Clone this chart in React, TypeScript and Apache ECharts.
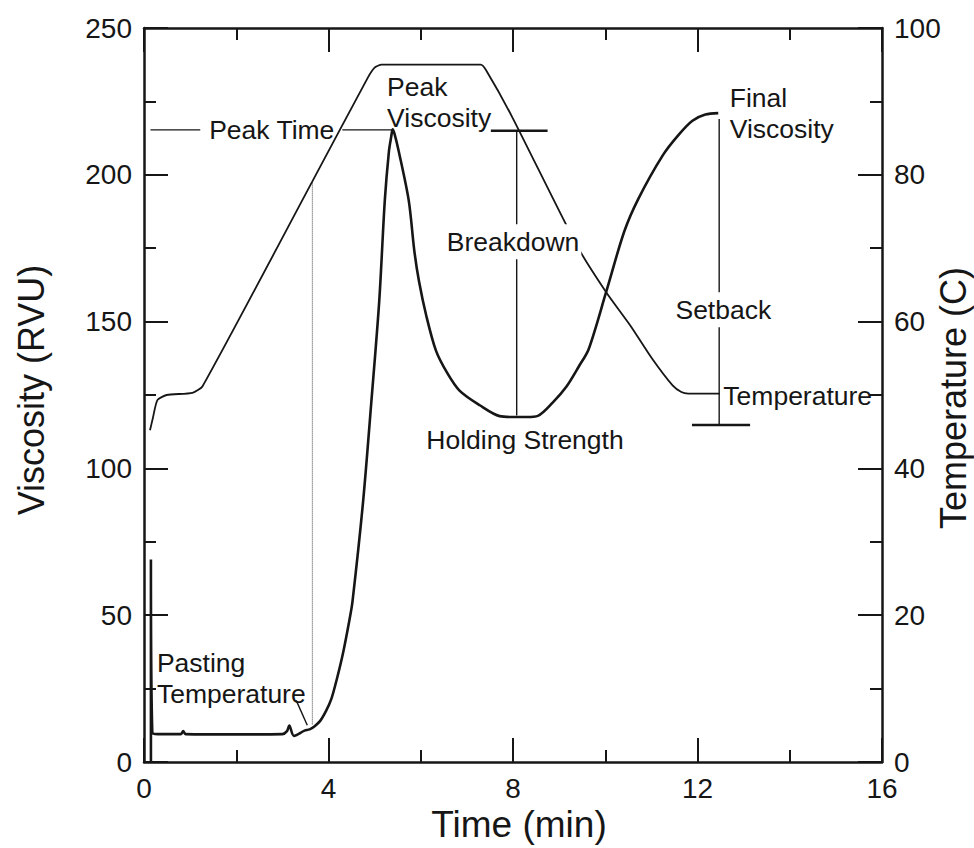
import React, { useEffect, useRef } from "react";
import * as echarts from "echarts";

// ---- Data ----
const viscTime = [0.15, 0.15, 0.18, 0.3, 0.8, 0.85, 0.9, 2.0, 3.0, 3.1, 3.15, 3.25, 3.48, 3.59, 3.7, 3.82, 3.95, 4.06, 4.18, 4.32, 4.46, 4.52, 4.75, 4.93, 5.1, 5.22, 5.31, 5.36, 5.39, 5.43, 5.52, 5.74, 5.86, 5.96, 6.12, 6.33, 6.57, 6.84, 7.28, 7.71, 8.0, 8.3, 8.54, 8.86, 9.16, 9.43, 9.64, 10.02, 10.41, 10.72, 11.25, 11.59, 11.89, 12.17, 12.45];
const viscValue = [0, 69, 10, 9.5, 9.5, 10.5, 9.5, 9.4, 9.5, 10.5, 12.4, 8.9, 10.7, 11.1, 12.2, 14.0, 17.5, 21.4, 28.2, 37.5, 48.9, 54.6, 88.7, 122.9, 157, 191.1, 208, 213, 215.5, 214, 208.2, 191.2, 174.2, 163.9, 152, 140.1, 132.6, 126.5, 121.5, 117.8, 117.5, 117.5, 117.9, 122.4, 127.9, 134.8, 140.6, 160.1, 180.6, 191.9, 206.7, 213.6, 218.4, 220.5, 221];

const tempTime = [0.13, 0.19, 0.29, 0.49, 1.05, 1.27, 3.65, 4.85, 5.0, 5.15, 7.3, 7.42, 7.98, 9.39, 10.02, 10.55, 11.01, 11.46, 11.65, 11.8, 12.48];
const tempValue = [45.2, 46.8, 49.3, 50, 50.3, 51.2, 79.1, 93.2, 94.6, 95, 95, 94.2, 87.9, 70.3, 64, 59.4, 55, 51.3, 50.4, 50.2, 50.2];

const xTicks = { min: 0, max: 16, interval: 4 };
const yViscTicks = { min: 0, max: 250, interval: 50 };
const yTempTicks = { min: 0, max: 100, interval: 20 };

// annotation segments [time, viscosity]
const peakTimeLeft = [[0.14, 215.3], [1.22, 215.3]];
const peakTimeRight = [[4.3, 215.3], [5.39, 215.3]];
const breakdownBar = [[7.52, 215], [8.75, 215]];
const breakdownLine = [[8.08, 215], [8.08, 118]];
const setbackLine = [[12.47, 219], [12.47, 114.8]];
const setbackBar = [[11.88, 114.8], [13.14, 114.8]];
const pastingDotted = [[3.65, 12.8], [3.65, 197.7]];
const pastingLeader = [[3.3, 21], [3.54, 12.5]];

// annotation labels
const labelTexts = ["Peak Time", "Peak\nViscosity", "Breakdown", "Holding Strength", "Final\nViscosity", "Setback", "Temperature", "Pasting\nTemperature"];
const labelPos = [[2.77, 215.3], [5.27, 224.5], [8.0, 177.2], [8.26, 109.7], [12.7, 220.9], [12.56, 154], [12.56, 124.7], [0.28, 28.3]];
const labelLeftAligned = [false, true, false, false, true, false, true, true];
const labelWhiteBg = [false, false, true, false, false, true, false, false];

const FONT = "'Liberation Sans', Arial, sans-serif";
const INK = "#161616";

export default function App() {
  const ref = useRef<HTMLDivElement>(null);
  useEffect(() => {
    if (!ref.current) return;
    const chart = echarts.init(ref.current, undefined, { renderer: "svg" });

    const axisCommon = (showLabel: boolean) => ({
      type: "value",
      axisLine: { show: true, onZero: false, lineStyle: { color: INK, width: 2.5 } },
      axisTick: { show: true, inside: true, length: 24, lineStyle: { color: INK, width: 2 } },
      minorTick: { show: true, splitNumber: 2, length: 12, lineStyle: { color: INK, width: 2 } },
      splitLine: { show: false },
      minorSplitLine: { show: false },
      axisLabel: { show: showLabel, fontSize: 28, color: INK, fontFamily: FONT, margin: 12 },
    });

    const seg = (d: number[][], width: number, type: string = "solid", color: string = INK) => ({
      type: "line",
      xAxisIndex: 0,
      yAxisIndex: 0,
      data: d,
      symbol: "none",
      silent: true,
      lineStyle: { color, width, type },
      z: 3,
    });

    const option: any = {
      animation: false,
      backgroundColor: "#ffffff",
      textStyle: { fontFamily: FONT },
      grid: { left: 144, right: 92, top: 28, bottom: 86 },
      xAxis: [
        { ...axisCommon(true), ...xTicks, position: "bottom" },
        { ...axisCommon(false), ...xTicks, position: "top" },
      ],
      yAxis: [
        { ...axisCommon(true), ...yViscTicks, position: "left" },
        { ...axisCommon(true), ...yTempTicks, position: "right" },
      ],
      graphic: [
        { type: "text", x: 31, y: 390, rotation: Math.PI / 2, style: { text: "Viscosity (RVU)", fontSize: 36, fontFamily: FONT, fill: INK, align: "center", verticalAlign: "middle" } },
        { type: "text", x: 953, y: 398, rotation: Math.PI / 2, style: { text: "Temperature (C)", fontSize: 36, fontFamily: FONT, fill: INK, align: "center", verticalAlign: "middle" } },
        { type: "text", x: 519, y: 824, style: { text: "Time (min)", fontSize: 37, fontFamily: FONT, fill: INK, align: "center", verticalAlign: "middle" } },
      ],
      series: [
        {
          name: "Viscosity",
          type: "line",
          xAxisIndex: 0,
          yAxisIndex: 0,
          data: viscTime.map((t, i) => [t, viscValue[i]]),
          symbol: "none",
          smooth: 0.3,
          lineStyle: { color: INK, width: 2.6 },
          z: 4,
        },
        {
          name: "Temperature",
          type: "line",
          xAxisIndex: 0,
          yAxisIndex: 1,
          data: tempTime.map((t, i) => [t, tempValue[i]]),
          symbol: "none",
          smooth: 0.2,
          lineStyle: { color: INK, width: 1.8 },
          z: 4,
        },
        seg(peakTimeLeft, 1.4),
        seg(peakTimeRight, 1.4),
        seg(breakdownBar, 2.4),
        seg(breakdownLine, 1.4),
        seg(setbackLine, 1.4),
        seg(setbackBar, 2.4),
        seg(pastingDotted, 1, "dotted", "#444"),
        seg(pastingLeader, 1.4),
        {
          type: "scatter",
          xAxisIndex: 0,
          yAxisIndex: 0,
          symbolSize: 0,
          silent: true,
          z: 10,
          itemStyle: { color: INK },
          data: labelTexts.map((txt, i) => ({
            value: labelPos[i],
            label: {
              show: true,
              formatter: txt,
              position: labelLeftAligned[i] ? "right" : "inside",
              distance: 0,
              align: labelLeftAligned[i] ? "left" : "center",
              verticalAlign: "middle",
              fontSize: 26.5,
              lineHeight: 31,
              fontFamily: FONT,
              color: INK,
              textBorderWidth: 0,
              textBorderColor: "transparent",
              opacity: 1,
              backgroundColor: labelWhiteBg[i] ? "#ffffff" : "transparent",
              padding: labelWhiteBg[i] ? [2, 2] : 0,
            },
          })),
        },
      ],
    };
    chart.setOption(option);
    return () => chart.dispose();
  }, []);
  return <div ref={ref} style={{ position: "fixed", left: 0, top: 0, width: 974, height: 848 }} />;
}
